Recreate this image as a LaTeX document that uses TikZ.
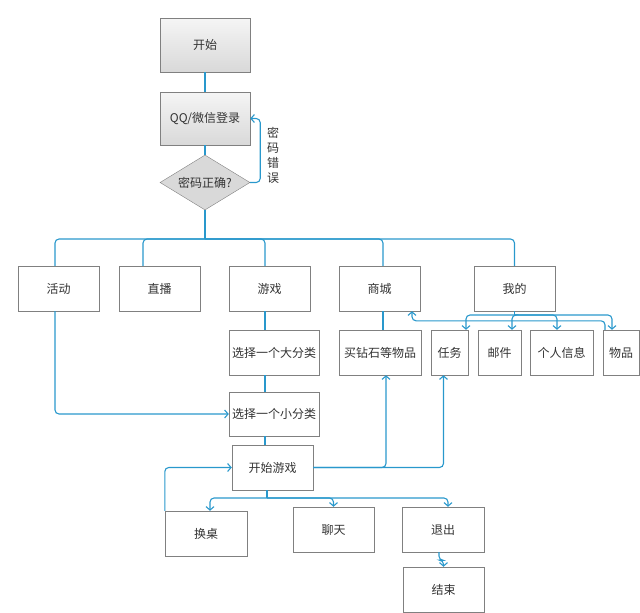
\documentclass[tikz,border=0pt]{standalone}
\usepackage{fontspec}
\setmainfont{Noto Sans CJK SC}
\usetikzlibrary{shapes.geometric,arrows.meta}
\definecolor{lineblue}{RGB}{41,152,204}
\definecolor{boxgray}{RGB}{128,128,128}
\begin{document}
\begin{tikzpicture}[x=1pt,y=-1pt,>={Straight Barb[length=3.5pt,width=8pt]},
	box/.style={draw=boxgray,fill=white,minimum height=45pt,inner sep=1pt,text=black!80,font=\fontsize{12}{15}\selectfont},
	greybox/.style={box,top color=gray!8,bottom color=gray!30},
	link/.style={draw=lineblue,line width=1.1pt,rounded corners=4pt}]
				\useasboundingbox (0,0) rectangle (640,613);
				\node[greybox,minimum width=90pt,minimum height=54pt] (start) at (205,45) {开始};
				\node[greybox,minimum width=90pt,minimum height=53pt] (login) at (205,118.5) {QQ/微信登录};
				\node[box,diamond,aspect=2,minimum width=90pt,minimum height=55pt,inner sep=0pt,fill=gray!30] (check) at (205,182.5) {密码正确?};
				\node[text=black!80,font=\fontsize{12}{15}\selectfont,align=center,inner sep=0pt] (err) at (273,155) {密\\码\\错\\误};
				\foreach \n/\x/\t in {act/58.5/活动,live/159.5/直播,game/269.5/游戏,shop/379.5/商城,me/514.5/我的}{
						\node[box,minimum width=81pt] (\n) at (\x,288.5) {\t};
					}
				\foreach \n/\x/\w/\t in {big/274/90/选择一个大分类,buy/380/82/买钻石等物品,task/449.5/37/任务,mail/499.5/43/邮件,info/561.5/63/个人信息,item/621/36/物品}{
						\node[box,minimum width=\w pt] (\n) at (\x,352.5) {\t};
					}
				\node[box,minimum width=90pt,minimum height=44pt] (small) at (274,414) {选择一个小分类};
				\node[box,minimum width=81pt] (play) at (272.5,467.5) {开始游戏};
				\node[box,minimum width=82pt] (swap) at (206,533.5) {换桌};
				\node[box,minimum width=81pt] (chat) at (333.5,529.5) {聊天};
				\node[box,minimum width=82pt] (quit) at (443,529.5) {退出};
				\node[box,minimum width=81pt] (end) at (443.5,589.5) {结束};
				\coordinate (bus) at (205,239);
				\coordinate (mb) at (514.5,315);
				\coordinate (pb) at (267,498);
				\draw[link] (start) -- (login);
				\draw[link] (login) -- (check);
				\draw[link,->] (check.east) -- ++(10,0) |- (login.east);
				\draw[link] (check.south) -- (bus);
				\foreach \n/\s in {act/-3.5,live/-16.5,game/-4.5,shop/3.5,me/0}{
						\draw[link] (bus) -| ([xshift=\s pt]\n.north);
					}
				\draw[link] ([xshift=-4.5pt]game.south) -- ([xshift=-9pt]big.north);
				\draw[link] ([xshift=-9pt]big.south) -- ([xshift=-9pt]small.north);
				\draw[link] ([xshift=-9pt]small.south) -- ([xshift=-7.5pt]play.north);
				\draw[link,->] ([xshift=-3.5pt]act.south) |- (small.west);
				\draw[link] ([xshift=3.5pt]shop.south) -- ([xshift=3pt]buy.north);
				\draw[link,->] (play.east) -| ([xshift=6pt]buy.south);
				\draw[link,->] (play.east) -| ([xshift=-6pt]task.south);
				\draw[link] (me.south) -- (mb);
				\foreach \n/\s in {task/16.5,mail/12.5,info/-4.5,item/-9}{
						\draw[link,->] (mb) -| ([xshift=\s pt]\n.north);
					}
				\draw[link,->] ([xshift=-16pt]item.north) -- ++(0,-9) -| ([xshift=32.5pt]shop.south);
				\draw[link] ([xshift=-5.5pt]play.south) -- (pb);
				\draw[link,->] (pb) -| ([xshift=4pt]swap.north);
				\draw[link,->] (pb) -| (chat.north);
				\draw[link,->] (pb) -| ([xshift=5pt]quit.north);
				\draw[link,->] (swap.north west) |- (play.west);
				\draw[link,->] ([xshift=-4pt]quit.south) -- ++(0,8) -| (end.north);
			\end{tikzpicture}
\end{document}
